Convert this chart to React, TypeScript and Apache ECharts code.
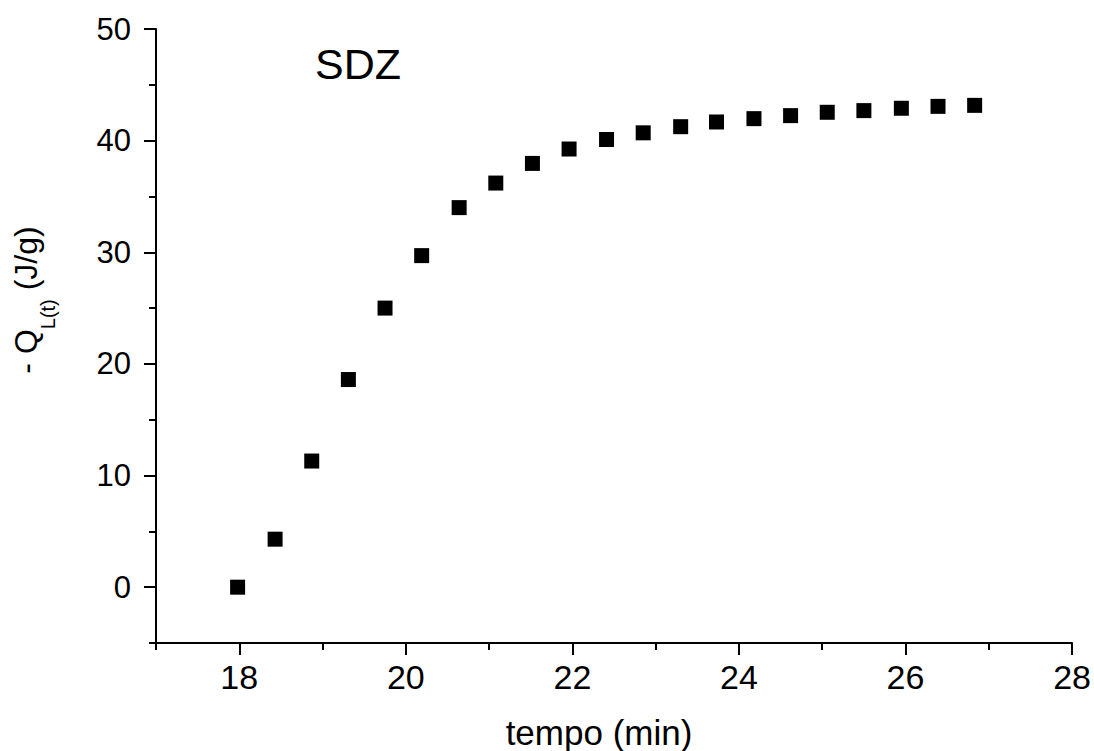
import React, { useEffect, useRef } from "react";
import * as echarts from "echarts";

const timeMin = [17.98, 18.43, 18.87, 19.31, 19.75, 20.19, 20.64, 21.08, 21.52, 21.96, 22.41, 22.85, 23.30, 23.73, 24.18, 24.62, 25.06, 25.50, 25.95, 26.39, 26.83];
const heatQ = [0.0, 4.3, 11.3, 18.6, 25.0, 29.7, 34.0, 36.2, 37.96, 39.25, 40.1, 40.7, 41.25, 41.67, 41.97, 42.24, 42.54, 42.69, 42.9, 43.07, 43.16];
const xMajorTicks = [18, 20, 22, 24, 26, 28];
const xMinorTicks = [17, 19, 21, 23, 25, 27];
const yMajorTicks = [0, 10, 20, 30, 40, 50];
const yMinorTicks = [-5, 5, 15, 25, 35, 45];
const seriesLabel = "SDZ";
const xTitle = "tempo (min)";

const FONT = "'Liberation Sans', Arial, sans-serif";

export default function App() {
  const ref = useRef<HTMLDivElement>(null);
  useEffect(() => {
    document.body.style.margin = "0";
    const chart = echarts.init(ref.current!, null, { renderer: "svg" });
    const axisLine = { show: true, onZero: false, lineStyle: { color: "#000", width: 2 } };
    const grid = { left: 156, right: 21, top: 29, bottom: 108 };
    chart.setOption({
      animation: false,
      backgroundColor: "#fff",
      grid,
      xAxis: [
        {
          type: "value", min: 17, max: 28, position: "bottom",
          axisLine, splitLine: { show: false },
          axisTick: { show: true, length: 12, customValues: xMajorTicks, lineStyle: { color: "#000", width: 2 } },
          axisLabel: { customValues: xMajorTicks, color: "#000", fontSize: 34, fontFamily: FONT, margin: 17 },
        },
        {
          type: "value", min: 17, max: 28, position: "bottom",
          axisLine: { show: false, onZero: false }, splitLine: { show: false },
          axisTick: { show: true, length: 7, customValues: xMinorTicks, lineStyle: { color: "#000", width: 2 } },
          axisLabel: { show: false },
        },
      ],
      yAxis: [
        {
          type: "value", min: -5, max: 50, position: "left",
          axisLine, splitLine: { show: false },
          axisTick: { show: true, length: 12, customValues: yMajorTicks, lineStyle: { color: "#000", width: 2 } },
          axisLabel: { customValues: yMajorTicks, color: "#000", fontSize: 31, fontFamily: FONT, margin: 25 },
        },
        {
          type: "value", min: -5, max: 50, position: "left",
          axisLine: { show: false, onZero: false }, splitLine: { show: false },
          axisTick: { show: true, length: 7, customValues: yMinorTicks, lineStyle: { color: "#000", width: 2 } },
          axisLabel: { show: false },
        },
      ],
      series: [
        {
          type: "scatter",
          xAxisIndex: 0,
          yAxisIndex: 0,
          symbol: "rect",
          symbolSize: 15,
          itemStyle: { color: "#000", opacity: 1 },
          data: timeMin.map((t, i) => [t, heatQ[i]]),
        },
      ],
      graphic: [
        {
          type: "text", x: 358, y: 64,
          style: { text: seriesLabel, fill: "#000", font: `43px ${FONT}`, align: "center", verticalAlign: "middle" },
        },
        {
          type: "text", x: 599, y: 732,
          style: { text: xTitle, fill: "#000", font: `35px ${FONT}`, align: "center", verticalAlign: "middle" },
        },
        {
          type: "text", x: 26, y: 300, rotation: Math.PI / 2,
          style: {
            text: "{a|- Q}{b|L(t)}{a| (J/g)}",
            align: "center",
            verticalAlign: "middle",
            fill: "#000",
            rich: {
              a: { fontSize: 32, lineHeight: 32, fontFamily: FONT, verticalAlign: "top", fill: "#000" },
              b: { fontSize: 20, lineHeight: 20, fontFamily: FONT, verticalAlign: "top", padding: [28, 0, 0, 0], fill: "#000" },
            },
          },
        },
      ],
    });
    return () => chart.dispose();
  }, []);
  return <div ref={ref} style={{ width: 1094, height: 751 }} />;
}
